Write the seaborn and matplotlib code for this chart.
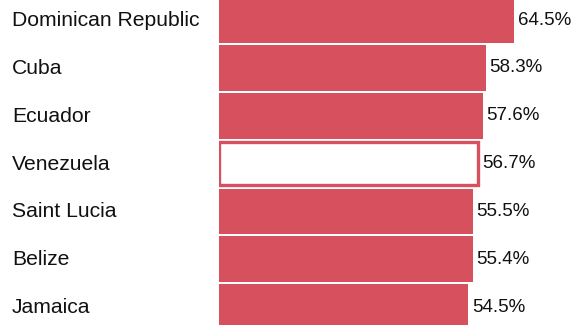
import matplotlib
matplotlib.use("Agg")
import matplotlib.pyplot as plt
import matplotlib.transforms as mtransforms
import pandas as pd
import seaborn as sns

countries = ["Dominican Republic", "Cuba", "Ecuador", "Venezuela",
             "Saint Lucia", "Belize", "Jamaica"]
values = [64.5, 58.3, 57.6, 56.7, 55.5, 55.4, 54.5]
value_labels = ["64.5%", "58.3%", "57.6%", "56.7%", "55.5%", "55.4%", "54.5%"]
highlight = "Venezuela"

bar_red = "#d6505e"
text_color = "#111111"

sns.set_theme(style="white")
plt.rcParams["font.family"] = ["Liberation Sans", "DejaVu Sans"]

df = pd.DataFrame({"country": countries, "value": values})

W, H, DPI = 574, 325, 100
fig = plt.figure(figsize=(W / DPI, H / DPI), dpi=DPI)
left_px = 218.7
ax = fig.add_axes([left_px / W, 0, 1 - left_px / W, 1])

palette = {c: ("white" if c == highlight else bar_red) for c in countries}
sns.barplot(data=df, x="value", y="country", hue="country", palette=palette,
            order=countries, hue_order=countries, orient="h", width=0.96,
            saturation=1, legend=False, ax=ax, linewidth=0)

# outline the highlighted country's bar
for patch, c in zip(ax.patches, countries):
    if c == highlight:
        patch.set_edgecolor(bar_red)
        patch.set_linewidth(2.4)
        patch.set_facecolor("white")
        # pull the outline inside the bar rectangle
        y0 = patch.get_y()
        w, h = patch.get_width(), patch.get_height()
        patch.set_width(w - 0.2)
        patch.set_height(h - 0.05)
        patch.set_y(y0 + 0.025)

px_per_unit = 4.583
ax.set_xlim(0, (W - left_px) / px_per_unit)
ax.set_ylim(6.371, -0.419)

# value labels to the right of each bar
for i, (v, lab) in enumerate(zip(values, value_labels)):
    ax.annotate(lab, xy=(v, i), xytext=(2.5, 0), textcoords="offset points",
                ha="left", va="center", fontsize=13.5, color=text_color)

# country names on the left margin
trans = mtransforms.blended_transform_factory(fig.transFigure, ax.transData)
for i, c in enumerate(countries):
    ax.text(12 / W, i + 0.01, c, transform=trans, ha="left", va="center",
            fontsize=15.2, color=text_color, clip_on=False)

ax.set_xlabel("")
ax.set_ylabel("")
ax.set_xticks([])
ax.set_yticks([])
for s in ax.spines.values():
    s.set_visible(False)

fig.savefig("out.png", dpi=DPI)
